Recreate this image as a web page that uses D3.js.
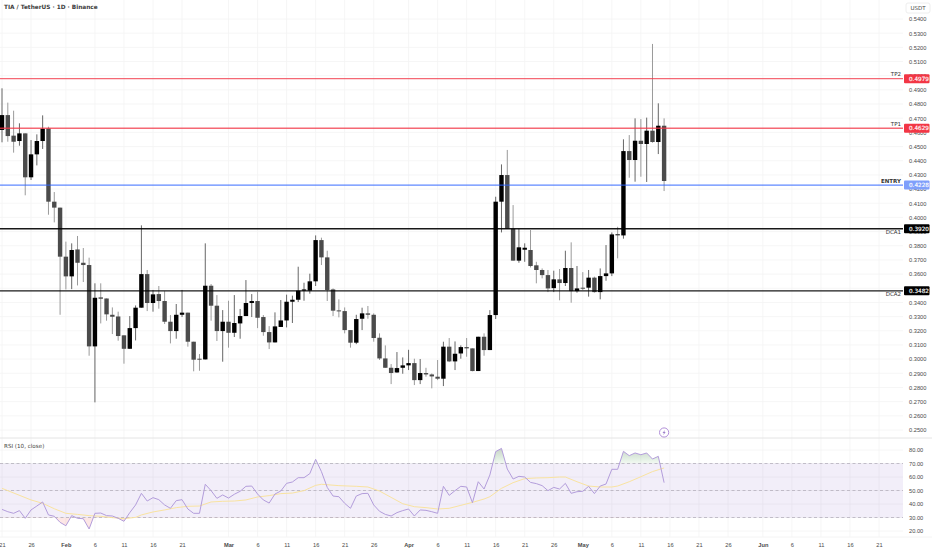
<!DOCTYPE html>
<html>
<head>
<meta charset="utf-8">
<script src="https://cdn.jsdelivr.net/npm/d3@7/dist/d3.min.js"></script>
<style>
  html, body { margin: 0; padding: 0; background: #fff; }
  svg { display: block; font-family: "DejaVu Sans", sans-serif; }
  .axis text { fill: #4a4a4a; font-size: 5.7px; }
  .axis path, .axis line { display: none; }
</style>
</head>
<body>
<svg id="chart" width="932" height="550"></svg>
<script>
// daily candles, 21 Jan to 15 May
const opens = [
  .4617,.4722,.4577,.4539,.4593,.4283,.4445,.4539,.4628,.4111,.4069,
  .3723,.3584,.3774,.3680,.3664,.3090,.3436,.3428,.3313,.3301,.3168,.3073,.3219,.3363,.3600,.3396,.3459,.3410,.3264,.3198,.3313,.3328,.3123,.3003,.2998,.3518,.3377,.3198,
  .3264,.3186,.3252,.3304,.3396,.3410,.3297,.3191,.3118,.3227,.3273,.3405,.3419,.3483,.3483,.3549,.3840,.3718,.3492,.3344,.3339,.3205,.3116,.3285,.3323,.3313,.3151,.3005,.2939,.2906,.2939,
  .2956,.2972,.2852,.2902,.2892,.2876,.2862,.3088,.2984,.3040,.3085,.3076,.2916,.3158,.3064,.3311,.4111,.4299,.3920,.3695,.3772,.3770,.3662,.3629,.3593,.3501,.3563,.3537,.3643,.3480,
  .3504,.3504,.3575,.3473,.3586,.3605,.3883,.3873,.4468,.4405,.4541,.4518,.4612,.4532,.4647];
const highs = [
  .4911,.4810,.4753,.4664,.4593,.4546,.4586,.4720,.4640,.4179,.4069,
  .3829,.3817,.3869,.3784,.3716,.3535,.3535,.3428,.3365,.3335,.3168,.3304,.3379,.3944,.3629,.3488,.3516,.3480,.3311,.3389,.3488,.3328,.3123,.3036,.3817,.3530,.3452,.3346,
  .3412,.3452,.3354,.3558,.3459,.3476,.3311,.3233,.3330,.3417,.3455,.3448,.3652,.3539,.3603,.3873,.3857,.3765,.3499,.3422,.3365,.3205,.3313,.3363,.3375,.3323,.3182,.3097,.2965,.3050,.3012,
  .3066,.3003,.3001,.2939,.2899,.2994,.3123,.3149,.3125,.3097,.3149,.3076,.3158,.3182,.3346,.4146,.4374,.4476,.4087,.3920,.3817,.3911,.3687,.3640,.3629,.3624,.3636,.3765,.3824,.3657,
  .3614,.3629,.3582,.3640,.3805,.3894,.3934,.4551,.4581,.4699,.4694,.4704,.5224,.4805,.4699];
const lows = [
  .4530,.4534,.4457,.4506,.4156,.4264,.4367,.4483,.4019,.3965,.3313,
  .3492,.3494,.3520,.3544,.3024,.2695,.3252,.3271,.3177,.3130,.2968,.3073,.3132,.3363,.3339,.3335,.3356,.3248,.3111,.3144,.3297,.3088,.2914,.2918,.2998,.3271,.3128,.2982,
  .3081,.3156,.3144,.3304,.3297,.3219,.3165,.3071,.3118,.3227,.3224,.3255,.3403,.3412,.3462,.3516,.3664,.3410,.3304,.3295,.3182,.3081,.3106,.3205,.3285,.3123,.2994,.2939,.2824,.2904,.2897,
  .2923,.2817,.2824,.2876,.2794,.2852,.2810,.2979,.2923,.3003,.3017,.2914,.2916,.3024,.3064,.3283,.3894,.3920,.3695,.3680,.3687,.3647,.3535,.3570,.3473,.3473,.3415,.3516,.3398,.3469,
  .3487,.3441,.3469,.3422,.3553,.3586,.3711,.3850,.4280,.4252,.4287,.4250,.4527,.4447,.4186];
const closes = [
  .4722,.4574,.4534,.4593,.4283,.4445,.4539,.4626,.4111,.4069,.3723,
  .3584,.3770,.3680,.3664,.3090,.3433,.3426,.3316,.3299,.3163,.3073,.3219,.3363,.3600,.3396,.3457,.3410,.3264,.3198,.3313,.3328,.3123,.2996,.2996,.3518,.3377,.3198,.3264,
  .3186,.3255,.3304,.3396,.3410,.3292,.3191,.3118,.3231,.3273,.3405,.3419,.3483,.3492,.3549,.3840,.3718,.3488,.3342,.3337,.3205,.3116,.3283,.3323,.3313,.3149,.3005,.2939,.2902,.2937,.2956,
  .2972,.2852,.2902,.2892,.2878,.2862,.3088,.2984,.3038,.3085,.3076,.2916,.3158,.3064,.3311,.4111,.4299,.3920,.3695,.3789,.3786,.3657,.3629,.3593,.3499,.3563,.3537,.3643,.3480,.3499,
  .3497,.3575,.3473,.3586,.3605,.3880,.3873,.4468,.4405,.4541,.4518,.4612,.4532,.4647,.4257];

// RSI (10, close), one value per day
const rsi = [
  36,34.3,33.1,35.1,29.4,35.6,38.5,41.5,31.9,30.9,26.4,
  23.9,31.4,29.4,29.1,21.5,33.1,33.3,31.4,31.1,29.4,27.2,33.6,39.3,47.9,42.2,44.7,43.2,39.3,36.8,42.5,43.2,36.3,33.1,33.1,54.6,49.9,44.2,46.7,
  44.4,47.2,49.4,53.1,53.3,47.4,43,40.7,47.4,49.6,55.3,56.3,59.5,59.5,62.5,73.1,64,52.3,45.9,45.4,40.5,36.8,45.9,47.7,47.9,39.3,34.6,32.3,31.1,33.6,35.1,
  36.3,31.1,35.6,35.3,34.3,33.1,53.1,46.4,49.9,53.1,52.6,41,56.5,51.1,61.5,78.8,81.2,65.9,58.5,60.5,60,56,55.1,53.6,49.9,52.3,51.1,55.3,47.9,49.1,
  49.4,53.1,47.7,53.3,54.8,65.7,65.7,79,75.8,77.8,76.5,77.8,73.3,75.3,55.8];

// RSI moving average, read at the days where it bends
const rsiMaDates = ["01-21","01-26","01-28","01-30","02-01","02-03","02-05","02-07","02-09","02-11","02-13","02-14","02-16","02-18","02-20","02-22","02-24","02-26","02-28","03-02","03-04","03-06","03-08","03-10","03-12","03-14","03-16","03-17","03-20","03-23","03-25","03-27","03-29","03-31","04-02","04-04","04-06","04-08","04-10","04-12","04-14","04-15","04-17","04-19","04-21","04-23","04-25","04-27","04-28","04-30","05-02","05-04","05-06","05-07","05-09","05-11","05-13","05-15"];
const rsiMa = [51.6,43,40.5,36.5,33.1,32.3,31.4,30.9,29.9,29.1,30.1,31.9,34.1,35.6,37.3,38.3,38.5,41.5,42,42.2,43,45.2,46.2,47.7,48.1,49.9,53.8,54.6,53.6,53.1,52.6,49.6,44.9,40.2,38,37.3,36.3,36.8,39,41.2,43.7,45.4,51.6,55.8,58.8,59.3,59.5,60,60,56.5,53.3,52.6,52.6,53.3,56.5,60.2,64,66.7];

const priceTicks = [.25,.26,.27,.28,.29,.30,.31,.32,.33,.34,.35,.36,.37,.38,.39,.40,.41,.42,.43,.44,.45,.46,.47,.48,.49,.50,.51,.52,.53,.54];
const rsiTicks = [20,30,40,50,60,70,80];
const rsiDashes = [30,50,70];

const tickDays = ["01-21","01-26","02-01","02-06","02-11","02-16","02-21","03-01","03-06","03-11","03-16","03-21","03-26","04-01","04-06","04-11","04-16","04-21","04-26","05-01","05-06","05-11","05-16","05-21","05-26","06-01","06-06","06-11","06-16","06-21"];
const tickLabels = ["21","26","Feb","6","11","16","21","Mar","6","11","16","21","26","Apr","6","11","16","21","26","May","6","11","16","21","26","Jun","6","11","16","21"];

const levelValues = [.4979,.4629,.4228,.3920,.3482];
const levelNames = ["TP2","TP1","ENTRY","DCA1","DCA2"];
const levelColors = ["#f23645","#f23645","#2962ff","#000000","#000000"];
const levelTagColors = ["#f23645","#f23645","#7f9ffb","#000000","#000000"];
const levelNameOffsets = [-2.5,-2.5,-2.5,5.5,5.5];

const plotRight = 903;
const axisLeft = 909;

const svg = d3.select("#chart");
const toDate = s => new Date("2025-" + s + "T00:00:00Z");
const days = d3.utcDay.range(toDate("01-21"), toDate("05-16"));
const candles = days.map((d, i) => ({date: d, o: opens[i], h: highs[i], l: lows[i], c: closes[i], rsi: rsi[i]}));
const maPoints = rsiMaDates.map((d, i) => ({date: toDate(d), v: rsiMa[i]}));

const x = d3.scaleUtc().domain([toDate("01-21"), toDate("06-21")]).range([2, 879]);
const y = d3.scaleLinear().domain([.54, .25]).range([19, 430]);
const yRsi = d3.scaleLinear().domain([80, 20]).range([450, 531]);

// grid
const grid = svg.append("g").attr("stroke", "#f4f4f4").attr("stroke-width", 0.8);
grid.selectAll(".gx").data(tickDays).join("line")
  .attr("x1", d => x(toDate(d))).attr("x2", d => x(toDate(d)))
  .attr("y1", 0).attr("y2", 537);
grid.selectAll(".gy").data(priceTicks).join("line")
  .attr("x1", 0).attr("x2", plotRight)
  .attr("y1", d => y(d)).attr("y2", d => y(d));
grid.selectAll(".gr").data(rsiTicks).join("line")
  .attr("x1", 0).attr("x2", plotRight)
  .attr("y1", d => yRsi(d)).attr("y2", d => yRsi(d));

// pane separator and axis edges
svg.append("line").attr("x1", 0).attr("x2", 932).attr("y1", 438).attr("y2", 438).attr("stroke", "#e4e4e4");
svg.append("line").attr("x1", 0).attr("x2", 932).attr("y1", 537).attr("y2", 537).attr("stroke", "#f4f4f4");

// candles
const candle = svg.append("g").selectAll("g").data(candles).join("g");
candle.append("line")
  .attr("x1", d => x(d.date)).attr("x2", d => x(d.date))
  .attr("y1", d => y(d.h)).attr("y2", d => y(d.l))
  .attr("stroke", d => d.c >= d.o ? "#666" : "#9a9a9a");
candle.append("rect")
  .attr("x", d => x(d.date) - 2.2).attr("width", 4.4)
  .attr("y", d => y(Math.max(d.o, d.c)))
  .attr("height", d => Math.max(1, Math.abs(y(d.o) - y(d.c))))
  .attr("fill", d => d.c >= d.o ? "#000" : "#4b4b4b");

// horizontal levels
levelValues.forEach((v, i) => {
  svg.append("line").attr("x1", 0).attr("x2", plotRight).attr("y1", y(v)).attr("y2", y(v))
    .attr("stroke", levelColors[i]).attr("stroke-width", 1.4)
    .attr("stroke-opacity", i < 3 ? 0.75 : 0.9);
  svg.append("text").attr("x", plotRight - 2).attr("y", y(v) + levelNameOffsets[i])
    .attr("text-anchor", "end").attr("font-size", 5.5).attr("fill", "#333")
    .attr("font-weight", levelNames[i] === "ENTRY" ? "bold" : "normal")
    .text(levelNames[i]);
});

// price axis
svg.append("g").attr("class", "axis")
  .attr("transform", `translate(${axisLeft},0)`)
  .call(d3.axisRight(y).tickValues(priceTicks).tickSize(0).tickPadding(0).tickFormat(d3.format(".4f")));

// price tags sit over the axis labels
levelValues.forEach((v, i) => {
  svg.append("rect").attr("x", 904).attr("width", 25.5).attr("y", y(v) - 4.5).attr("height", 9)
    .attr("fill", levelTagColors[i]).attr("rx", 1);
  svg.append("text").attr("x", axisLeft).attr("y", y(v) + 2.1)
    .attr("font-size", 5.7).attr("fill", "#fff").attr("stroke", "#fff").attr("stroke-width", 0.15)
    .text(d3.format(".4f")(v));
});

// USDT box
svg.append("rect").attr("x", 906).attr("y", 3).attr("width", 24).attr("height", 10).attr("rx", 2)
  .attr("fill", "#fff").attr("stroke", "#eeeeee");
svg.append("text").attr("x", 918).attr("y", 10).attr("text-anchor", "middle")
  .attr("font-size", 5.5).attr("fill", "#4a4a4a").text("USDT");

// title
svg.append("text").attr("x", 4).attr("y", 9).attr("font-size", 5.8).attr("font-weight", "bold")
  .attr("fill", "#3c3c3c").text("TIA / TetherUS · 1D · Binance");

// RSI pane
svg.append("text").attr("x", 4).attr("y", 447.5).attr("font-size", 5.6).attr("fill", "#444").text("RSI (10, close)");
svg.append("rect").attr("x", 0).attr("width", plotRight)
  .attr("y", yRsi(70)).attr("height", yRsi(30) - yRsi(70))
  .attr("fill", "#7e57c2").attr("fill-opacity", 0.1);
svg.selectAll(".dash").data(rsiDashes).join("line")
  .attr("x1", 0).attr("x2", plotRight)
  .attr("y1", d => yRsi(d)).attr("y2", d => yRsi(d))
  .attr("stroke", "#b5b0bd").attr("stroke-dasharray", "3 2.5").attr("stroke-width", 0.8);

const defs = svg.append("defs");
defs.append("clipPath").attr("id", "above70").append("rect")
  .attr("x", 0).attr("y", 438).attr("width", plotRight).attr("height", yRsi(70) - 438);
defs.append("clipPath").attr("id", "below30").append("rect")
  .attr("x", 0).attr("y", yRsi(30)).attr("width", plotRight).attr("height", 537 - yRsi(30));
const obGrad = defs.append("linearGradient").attr("id", "obGrad").attr("gradientUnits", "userSpaceOnUse")
  .attr("x1", 0).attr("x2", 0).attr("y1", yRsi(81)).attr("y2", yRsi(70));
obGrad.append("stop").attr("offset", 0).attr("stop-color", "#8a9a8a").attr("stop-opacity", 0.45);
obGrad.append("stop").attr("offset", 1).attr("stop-color", "#66bb6a").attr("stop-opacity", 0.08);

svg.append("path").datum(candles)
  .attr("clip-path", "url(#above70)")
  .attr("fill", "url(#obGrad)")
  .attr("d", d3.area().x(d => x(d.date)).y0(yRsi(70)).y1(d => yRsi(d.rsi)));
svg.append("path").datum(candles)
  .attr("clip-path", "url(#below30)")
  .attr("fill", "#ef5350").attr("fill-opacity", 0.14)
  .attr("d", d3.area().x(d => x(d.date)).y0(yRsi(30)).y1(d => yRsi(d.rsi)));

svg.append("path").datum(maPoints)
  .attr("fill", "none").attr("stroke", "#f9e3a0").attr("stroke-width", 1)
  .attr("d", d3.line().x(d => x(d.date)).y(d => yRsi(d.v)));
svg.append("path").datum(candles)
  .attr("fill", "none").attr("stroke", "#b39ddb").attr("stroke-width", 1)
  .attr("d", d3.line().x(d => x(d.date)).y(d => yRsi(d.rsi)));

// lightning marker above the RSI pane
const iconX = x(toDate("05-15"));
svg.append("circle").attr("cx", iconX).attr("cy", 432.5).attr("r", 4.6)
  .attr("fill", "#fff").attr("stroke", "#b18fd8").attr("stroke-width", 1);
svg.append("path").attr("transform", `translate(${iconX},432.5)`)
  .attr("d", "M0.8,-2.6 L-1.6,0.4 L-0.2,0.4 L-0.8,2.6 L1.6,-0.4 L0.2,-0.4 Z")
  .attr("fill", "#9c7fc9");

// time axis
const timeAxis = svg.append("g").attr("class", "axis")
  .attr("transform", "translate(0,543)")
  .call(d3.axisBottom(x).tickValues(tickDays.map(toDate)).tickSize(0).tickPadding(0)
    .tickFormat((d, i) => tickLabels[i]));
timeAxis.selectAll("text")
  .attr("font-weight", (d, i) => /[A-Z]/.test(tickLabels[i]) ? "bold" : "normal");

// RSI axis
svg.append("g").attr("class", "axis")
  .attr("transform", `translate(${axisLeft},0)`)
  .call(d3.axisRight(yRsi).tickValues(rsiTicks).tickSize(0).tickPadding(0).tickFormat(d3.format(".2f")));
</script>
</body>
</html>
